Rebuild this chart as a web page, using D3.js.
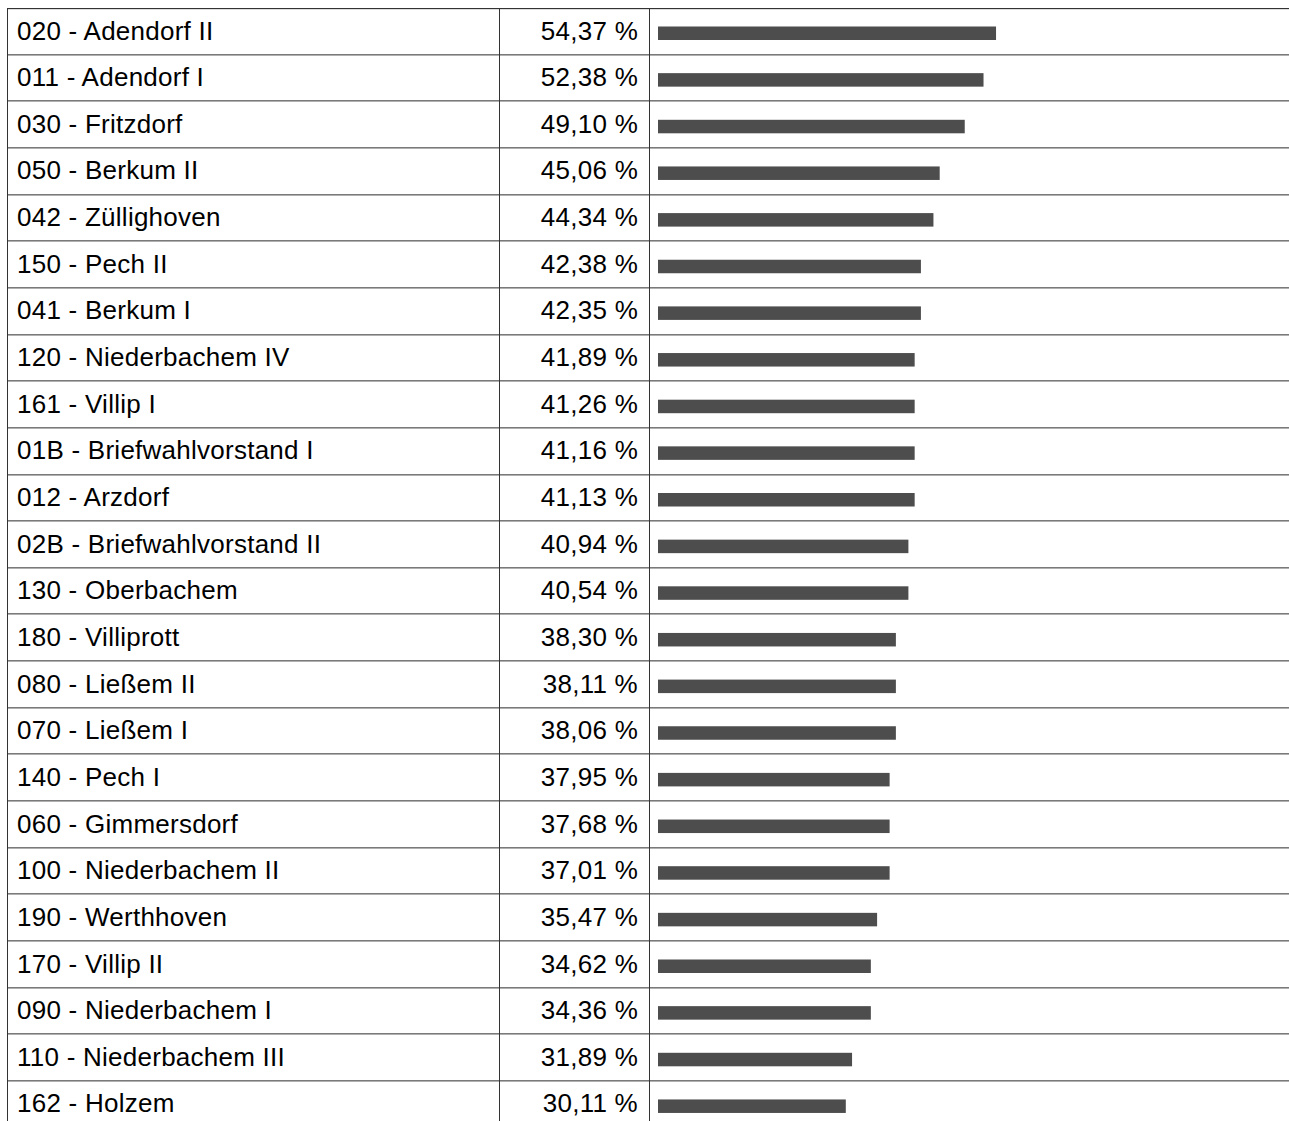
<!DOCTYPE html>
<html><head><meta charset="utf-8">
<script src="https://cdn.jsdelivr.net/npm/d3@7/dist/d3.min.js"></script>
<style>html,body{margin:0;padding:0;background:#fff;overflow:hidden}</style>
</head><body>
<svg id="chart" width="1289" height="1121"></svg>
<script>
const districts = ["020 - Adendorf II","011 - Adendorf I","030 - Fritzdorf","050 - Berkum II","042 - Züllighoven","150 - Pech II","041 - Berkum I","120 - Niederbachem IV","161 - Villip I","01B - Briefwahlvorstand I","012 - Arzdorf","02B - Briefwahlvorstand II","130 - Oberbachem","180 - Villiprott","080 - Ließem II","070 - Ließem I","140 - Pech I","060 - Gimmersdorf","100 - Niederbachem II","190 - Werthhoven","170 - Villip II","090 - Niederbachem I","110 - Niederbachem III","162 - Holzem"];
const shares = [54.37,52.38,49.10,45.06,44.34,42.38,42.35,41.89,41.26,41.16,41.13,40.94,40.54,38.30,38.11,38.06,37.95,37.68,37.01,35.47,34.62,34.36,31.89,30.11];

const svg = d3.select("#chart");
const W = 1289;
const top0 = 8, rowH = 46.65;
const colL = 7.5, col1 = 499.5, col2 = 649.5;

const y = d3.scaleBand().domain(districts).range([top0, top0 + rowH * districts.length]).padding(0);
// bars use whole-percent widths of the bar cell
const x = d3.scaleLinear().domain([0, 100]).range([0, 626]);
const fmt = v => d3.format(".2f")(v).replace(".", ",") + " %";

// row separators
const rowsG = svg.append("g");
districts.forEach((d, i) => {
  const yy = y(d);
  if (i === 0) {
    rowsG.append("line").attr("x1", colL).attr("x2", W).attr("y1", yy + 0.5).attr("y2", yy + 0.5).attr("stroke", "#333");
    rowsG.append("line").attr("x1", colL).attr("x2", W).attr("y1", yy + 1.5).attr("y2", yy + 1.5).attr("stroke", "#ddd");
  } else {
    rowsG.append("line").attr("x1", colL).attr("x2", W).attr("y1", Math.round(yy) - 0.5).attr("y2", Math.round(yy) - 0.5).attr("stroke", "#7a7a7a");
    rowsG.append("line").attr("x1", colL).attr("x2", W).attr("y1", Math.round(yy) + 0.5).attr("y2", Math.round(yy) + 0.5).attr("stroke", "#b0b0b0");
  }
});
// vertical lines
[colL, col1, col2].forEach(cx => {
  svg.append("line").attr("x1", cx).attr("x2", cx).attr("y1", top0).attr("y2", 1121).attr("stroke", "#333");
});

const g = svg.append("g").attr("font-family", "Arial, 'Liberation Sans', sans-serif").attr("font-size", 26)
  .attr("letter-spacing", 0.25).attr("fill", "#000");
g.selectAll("text.lab").data(districts).join("text").attr("class", "lab")
  .attr("x", 17).attr("y", d => y(d) + 31.5).text(d => d);
g.selectAll("text.val").data(shares).join("text").attr("class", "val")
  .attr("x", 638).attr("y", (v, i) => y(districts[i]) + 31.5).attr("text-anchor", "end").text(v => fmt(v));

svg.append("g").selectAll("rect").data(shares).join("rect")
  .attr("x", 658)
  .attr("y", (v, i) => y(districts[i]) + 18.5)
  .attr("height", 13.5)
  .attr("width", v => x(Math.floor(v)))
  .attr("fill", "#4d4d4d");
</script>
</body></html>
